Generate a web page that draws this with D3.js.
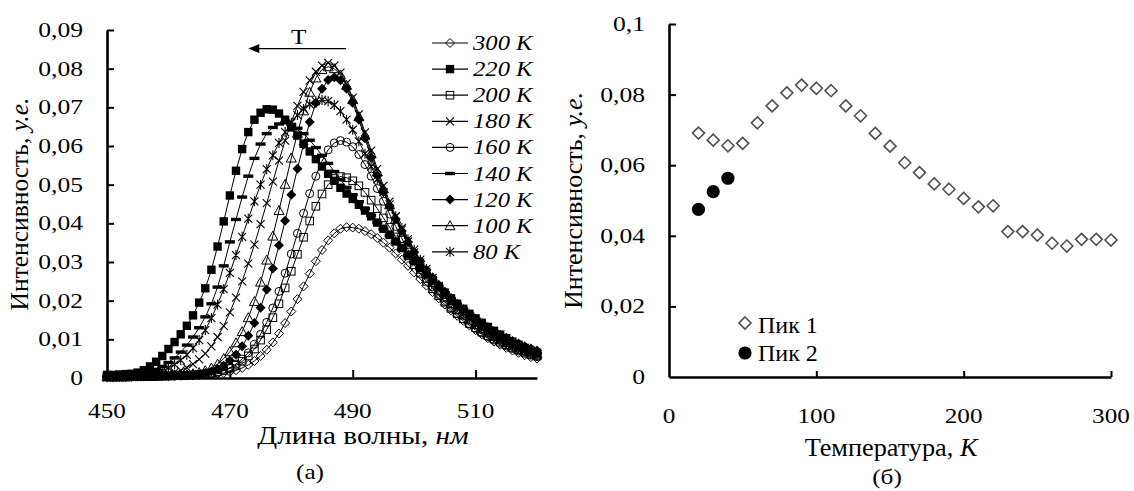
<!DOCTYPE html>
<html><head><meta charset="utf-8">
<script src="https://cdn.jsdelivr.net/npm/d3@7"></script>
<style>html,body{margin:0;padding:0;background:#fff;} svg{display:block;} svg text{font-family:"Liberation Serif","Times New Roman",Tinos,serif;}</style>
</head><body>
<svg id="c" width="1134" height="491"></svg>
<script>
// ---------- DATA: panel (a) spectra ----------
const wavelengths = [450,451,452,453,454,455,456,457,458,459,460,461,462,463,464,465,466,467,468,469,470,471,472,473,474,475,476,477,478,479,480,481,482,483,484,485,486,487,488,489,490,491,492,493,494,495,496,497,498,499,500,501,502,503,504,505,506,507,508,509,510,511,512,513,514,515,516,517,518,519,520];
const spec300K = [.0003,.0003,.0003,.0003,.0004,.0004,.0004,.0004,.0005,.0005,.0005,.0006,.0006,.0007,.0007,.0008,.0009,.0010,.0011,.0013,.0016,.0020,.0026,.0034,.0044,.0057,.0073,.0092,.0115,.0142,.0172,.0204,.0237,.0270,.0302,.0331,.0356,.0374,.0386,.0390,.0389,.0386,.0380,.0372,.0362,.0350,.0337,.0322,.0306,.0290,.0273,.0256,.0239,.0222,.0206,.0190,.0175,.0161,.0148,.0136,.0124,.0113,.0103,.0094,.0086,.0078,.0071,.0065,.0059,.0054,.0050];
const spec220K = [.0008,.0008,.0009,.0010,.0011,.0014,.0020,.0030,.0042,.0057,.0075,.0093,.0113,.0135,.0162,.0195,.0232,.0280,.0340,.0405,.0472,.0536,.0592,.0636,.0668,.0686,.0695,.0694,.0684,.0668,.0648,.0627,.0606,.0586,.0566,.0547,.0528,.0510,.0492,.0477,.0463,.0448,.0433,.0418,.0402,.0386,.0370,.0353,.0336,.0319,.0302,.0285,.0268,.0252,.0236,.0221,.0206,.0192,.0179,.0166,.0154,.0143,.0132,.0122,.0112,.0103,.0094,.0086,.0078,.0071,.0065];
const spec200K = [.0003,.0003,.0003,.0003,.0004,.0004,.0004,.0004,.0005,.0005,.0005,.0006,.0006,.0007,.0008,.0009,.0011,.0013,.0016,.0020,.0025,.0033,.0043,.0057,.0075,.0098,.0125,.0156,.0192,.0233,.0276,.0320,.0364,.0406,.0444,.0476,.0500,.0516,.0521,.0518,.0510,.0497,.0480,.0460,.0438,.0414,.0390,.0365,.0340,.0316,.0293,.0271,.0250,.0231,.0213,.0196,.0180,.0166,.0153,.0141,.0130,.0119,.0110,.0101,.0093,.0086,.0079,.0073,.0067,.0062,.0057];
const spec180K = [.0002,.0002,.0002,.0002,.0002,.0003,.0003,.0004,.0006,.0008,.0011,.0015,.0020,.0027,.0036,.0048,.0063,.0082,.0106,.0135,.0170,.0208,.0250,.0296,.0345,.0398,.0452,.0508,.0562,.0614,.0662,.0704,.0740,.0770,.0792,.0808,.0815,.0808,.0790,.0762,.0725,.0682,.0635,.0588,.0541,.0497,.0456,.0418,.0384,.0353,.0325,.0299,.0275,.0253,.0233,.0214,.0197,.0181,.0166,.0153,.0140,.0129,.0118,.0109,.0100,.0092,.0085,.0078,.0072,.0066,.0061];
const spec160K = [.0003,.0003,.0003,.0003,.0003,.0004,.0004,.0004,.0004,.0005,.0005,.0005,.0006,.0006,.0007,.0008,.0009,.0011,.0014,.0019,.0026,.0036,.0049,.0065,.0087,.0113,.0144,.0181,.0224,.0271,.0321,.0374,.0426,.0477,.0522,.0561,.0590,.0608,.0614,.0610,.0598,.0578,.0552,.0522,.0490,.0457,.0424,.0392,.0361,.0332,.0305,.0280,.0257,.0236,.0216,.0198,.0182,.0167,.0153,.0140,.0128,.0117,.0107,.0098,.0090,.0083,.0076,.0070,.0064,.0059,.0055];
const spec140K = [.0003,.0003,.0004,.0005,.0006,.0008,.0011,.0016,.0022,.0030,.0040,.0052,.0067,.0085,.0106,.0130,.0158,.0192,.0235,.0290,.0352,.0410,.0468,.0522,.0568,.0605,.0632,.0648,.0657,.0660,.0656,.0646,.0632,.0615,.0596,.0576,.0555,.0534,.0513,.0493,.0474,.0456,.0438,.0420,.0402,.0385,.0368,.0351,.0334,.0317,.0300,.0283,.0267,.0251,.0235,.0220,.0205,.0191,.0178,.0165,.0153,.0141,.0130,.0120,.0110,.0101,.0093,.0085,.0077,.0070,.0064];
const spec120K = [.0003,.0003,.0003,.0004,.0004,.0004,.0004,.0005,.0005,.0005,.0006,.0006,.0007,.0008,.0009,.0010,.0013,.0017,.0023,.0032,.0045,.0061,.0082,.0109,.0142,.0182,.0229,.0283,.0343,.0407,.0474,.0541,.0604,.0662,.0711,.0748,.0771,.0778,.0770,.0748,.0712,.0668,.0620,.0570,.0524,.0482,.0445,.0411,.0380,.0352,.0326,.0302,.0280,.0260,.0241,.0223,.0207,.0192,.0178,.0165,.0153,.0141,.0131,.0121,.0112,.0104,.0096,.0089,.0082,.0076,.0071];
const spec100K = [.0003,.0003,.0003,.0003,.0004,.0004,.0004,.0005,.0005,.0006,.0006,.0007,.0008,.0009,.0011,.0014,.0019,.0026,.0036,.0050,.0068,.0091,.0120,.0156,.0198,.0248,.0305,.0367,.0433,.0501,.0569,.0633,.0691,.0739,.0776,.0798,.0805,.0800,.0784,.0757,.0720,.0676,.0628,.0580,.0533,.0489,.0448,.0411,.0377,.0346,.0318,.0292,.0269,.0247,.0227,.0209,.0192,.0177,.0163,.0150,.0138,.0127,.0117,.0108,.0099,.0092,.0085,.0078,.0072,.0067,.0062];
const spec80K = [.0002,.0002,.0003,.0003,.0004,.0005,.0007,.0010,.0014,.0019,.0026,.0035,.0046,.0060,.0077,.0098,.0124,.0155,.0190,.0230,.0272,.0318,.0365,.0412,.0457,.0500,.0540,.0576,.0608,.0636,.0660,.0680,.0696,.0708,.0716,.0719,.0716,.0706,.0690,.0668,.0642,.0612,.0580,.0547,.0514,.0481,.0449,.0418,.0388,.0359,.0332,.0306,.0282,.0259,.0238,.0218,.0200,.0183,.0167,.0153,.0140,.0128,.0117,.0107,.0098,.0090,.0082,.0075,.0069,.0063,.0058];
const seriesLabels = ["300 К","220 К","200 К","180 К","160 К","140 К","120 К","100 К","80 К"];
const seriesMarkers = ["diamondOpen","bigSquare","squareOpen","cross","circleOpen","dash","diamondFilled","triangleOpen","asterisk"];
const specValues = [spec300K, spec220K, spec200K, spec180K, spec160K, spec140K, spec120K, spec100K, spec80K];
const xTicksA = [450,470,490,510];
const yTicksA = [0,0.01,0.02,0.03,0.04,0.05,0.06,0.07,0.08,0.09];
const yTickLabelsA = ["0","0,01","0,02","0,03","0,04","0,05","0,06","0,07","0,08","0,09"];

// ---------- DATA: panel (б) peak intensities ----------
const temps1 = [20,30,40,50,60,70,80,90,100,110,120,130,140,150,160,170,180,190,200,210,220,230,240,250,260,270,280,290,300];
const peak1 = [0.0691,0.0671,0.0655,0.0662,0.0720,0.0768,0.0805,0.0827,0.0818,0.0811,0.0768,0.0740,0.0690,0.0654,0.0607,0.0579,0.0547,0.0532,0.0506,0.0482,0.0485,0.0412,0.0412,0.0402,0.0379,0.0371,0.0390,0.0390,0.0388];
const temps2 = [20,30,40];
const peak2 = [0.0475,0.0525,0.0563];
const xTicksB = [0,100,200,300];
const yTicksB = [0,0.02,0.04,0.06,0.08,0.1];
const yTickLabelsB = ["0","0,02","0,04","0,06","0,08","0,1"];

// ---------- DRAWING ----------
const svg = d3.select("#c");
svg.append("rect").attr("width",1134).attr("height",491).attr("fill","#fff");

function addText(parent, x, y, parts, o = {}) {
  const t = parent.append("text")
    .attr("transform", `translate(${x},${y}) rotate(${o.rotate||0}) scale(${o.sx||1},1)`)
    .style("font-size", (o.size || 20) + "px")
    .attr("text-anchor", o.anchor || "start").attr("fill", "#000");
  if (o.italic) t.style("font-style", "italic");
  if (typeof parts === "string") parts = [{t: parts}];
  parts.forEach(p => { const s = t.append("tspan").text(p.t); if (p.italic) s.style("font-style", "italic"); });
  return t;
}

function marker(g, type, x, y) {
  const k = "#000";
  switch (type) {
    case "diamondOpen": g.append("path").attr("d",`M${x},${y-4.5}L${x+4.5},${y}L${x},${y+4.5}L${x-4.5},${y}Z`).attr("fill","none").attr("stroke",k).attr("stroke-width",1); break;
    case "bigSquare": g.append("rect").attr("x",x-4.2).attr("y",y-4.2).attr("width",8.4).attr("height",8.4).attr("fill",k); break;
    case "squareOpen": g.append("rect").attr("x",x-3.8).attr("y",y-3.8).attr("width",7.6).attr("height",7.6).attr("fill","none").attr("stroke",k).attr("stroke-width",1); break;
    case "cross": g.append("path").attr("d",`M${x-4},${y-4}L${x+4},${y+4}M${x-4},${y+4}L${x+4},${y-4}`).attr("stroke",k).attr("stroke-width",1.1); break;
    case "circleOpen": g.append("circle").attr("cx",x).attr("cy",y).attr("r",4).attr("fill","none").attr("stroke",k).attr("stroke-width",1); break;
    case "dash": g.append("rect").attr("x",x-5).attr("y",y-1.7).attr("width",10).attr("height",3.4).attr("fill",k); break;
    case "diamondFilled": g.append("path").attr("d",`M${x},${y-5}L${x+5},${y}L${x},${y+5}L${x-5},${y}Z`).attr("fill",k); break;
    case "triangleOpen": g.append("path").attr("d",`M${x},${y-5}L${x+5},${y+4}L${x-5},${y+4}Z`).attr("fill","none").attr("stroke",k).attr("stroke-width",1); break;
    case "asterisk": g.append("path").attr("d",`M${x},${y-5}L${x},${y+5}M${x-4},${y-4}L${x+4},${y+4}M${x-4},${y+4}L${x+4},${y-4}`).attr("stroke",k).attr("stroke-width",1.1); break;
  }
}

// ===== Panel (a) =====
const xA = d3.scaleLinear().domain([450,520]).range([107,537]);
const yA = d3.scaleLinear().domain([0,0.09]).range([378,30]);
const gA = svg.append("g");

const line = d3.line().x((d,i)=>xA(wavelengths[i])).y(d=>yA(d));
specValues.forEach((vals, si) => {
  const g = gA.append("g");
  g.append("path").attr("d", line(vals)).attr("fill","none").attr("stroke","#000").attr("stroke-width",1);
  vals.forEach((v,i) => marker(g, seriesMarkers[si], xA(wavelengths[i]), yA(v)));
});

// axes (a)
const axAy = d3.axisLeft(yA).tickValues(yTicksA.slice(1)).tickSizeInner(-7).tickSizeOuter(0).tickFormat("");
const axAx = d3.axisBottom(xA).tickValues(xTicksA.slice(1)).tickSizeInner(-8).tickSizeOuter(0).tickFormat("");
const gAy = gA.append("g").attr("transform","translate(107,0)").call(axAy);
const gAx = gA.append("g").attr("transform","translate(0,378)").call(axAx);
[gAy,gAx].forEach(g=>{ g.select(".domain").attr("stroke-width",2.6); g.selectAll(".tick line").attr("stroke-width",2); });
yTicksA.forEach((v,i)=> addText(svg, 83, yA(v)+7, yTickLabelsA[i], {size:21, sx:1.22, anchor:"end"}));
xTicksA.forEach(v=> addText(svg, xA(v), 418, String(v), {size:21, sx:1.2, anchor:"middle"}));
addText(svg, 363, 444, [{t:"Длина волны, "},{t:"нм",italic:true}], {size:25, sx:1.17, anchor:"middle"});
addText(svg, 28, yA(0.045), [{t:"Интенсивность, "},{t:"у.е.",italic:true}], {size:25, sx:1.02, anchor:"middle", rotate:-90});
addText(svg, 310, 479, "(а)", {size:22, sx:1.15, anchor:"middle"});

// T arrow annotation
const arY = yA(0.0852);
gA.append("line").attr("x1",xA(488.9)).attr("x2",xA(473.0)+9).attr("y1",arY).attr("y2",arY).attr("stroke","#000").attr("stroke-width",1.3);
gA.append("path").attr("d",`M${xA(473.0)},${arY}L${xA(473.0)+11},${arY-4.5}L${xA(473.0)+11},${arY+4.5}Z`).attr("fill","#000");
addText(svg, xA(481.2), yA(0.0865), "T", {size:22, sx:1.15, anchor:"middle"});

// legend (a)
seriesLabels.forEach((lab,i)=>{
  const y = 43 + i*26.1;
  const g = gA.append("g");
  g.append("line").attr("x1",432).attr("x2",468).attr("y1",y).attr("y2",y).attr("stroke","#000").attr("stroke-width",1.2);
  marker(g, seriesMarkers[i], 450, y);
  addText(svg, 473, y+7, lab, {size:22, sx:1.12, italic:true});
});

// ===== Panel (б) =====
const xB = d3.scaleLinear().domain([0,300]).range([669,1111]);
const yB = d3.scaleLinear().domain([0,0.1]).range([377,24]);
const gB = svg.append("g");
const axBy = d3.axisLeft(yB).tickValues(yTicksB.slice(1)).tickSizeInner(-7).tickSizeOuter(0).tickFormat("");
const axBx = d3.axisBottom(xB).tickValues(xTicksB.slice(1)).tickSizeInner(-6).tickSizeOuter(0).tickFormat("");
const gBy = gB.append("g").attr("transform","translate(669,0)").call(axBy);
const gBx = gB.append("g").attr("transform","translate(0,377)").call(axBx);
[gBy,gBx].forEach(g=>{ g.select(".domain").attr("stroke-width",2.6); g.selectAll(".tick line").attr("stroke-width",2); });
yTicksB.forEach((v,i)=> addText(svg, 645, yB(v)+7, yTickLabelsB[i], {size:21, sx:1.22, anchor:"end"}));
xTicksB.forEach(v=> addText(svg, xB(v), 423, String(v), {size:21, sx:1.2, anchor:"middle"}));
addText(svg, 891, 456, [{t:"Температура, "},{t:"К",italic:true}], {size:25, sx:1.05, anchor:"middle"});
addText(svg, 582, yB(0.05), [{t:"Интенсивность, "},{t:"у.е.",italic:true}], {size:25, sx:1.04, anchor:"middle", rotate:-90});
addText(svg, 887, 484, "(б)", {size:22, sx:1.15, anchor:"middle"});

const diamondPath = (x,y,r)=>`M${x},${y-r}L${x+r},${y}L${x},${y+r}L${x-r},${y}Z`;
temps1.forEach((t,i)=> gB.append("path").attr("d", diamondPath(xB(t), yB(peak1[i]), 6)).attr("fill","#fff").attr("stroke","#505050").attr("stroke-width",1.6));
temps2.forEach((t,i)=> gB.append("circle").attr("cx", xB(t)).attr("cy", yB(peak2[i])).attr("r",6.6).attr("fill","#000"));

// legend (б)
gB.append("path").attr("d", diamondPath(745, 323, 6)).attr("fill","#fff").attr("stroke","#505050").attr("stroke-width",1.6);
gB.append("circle").attr("cx",745).attr("cy",353).attr("r",6.6).attr("fill","#000");
addText(svg, 758, 333, "Пик 1", {size:24});
addText(svg, 758, 361, "Пик 2", {size:24});
</script>
</body></html>
